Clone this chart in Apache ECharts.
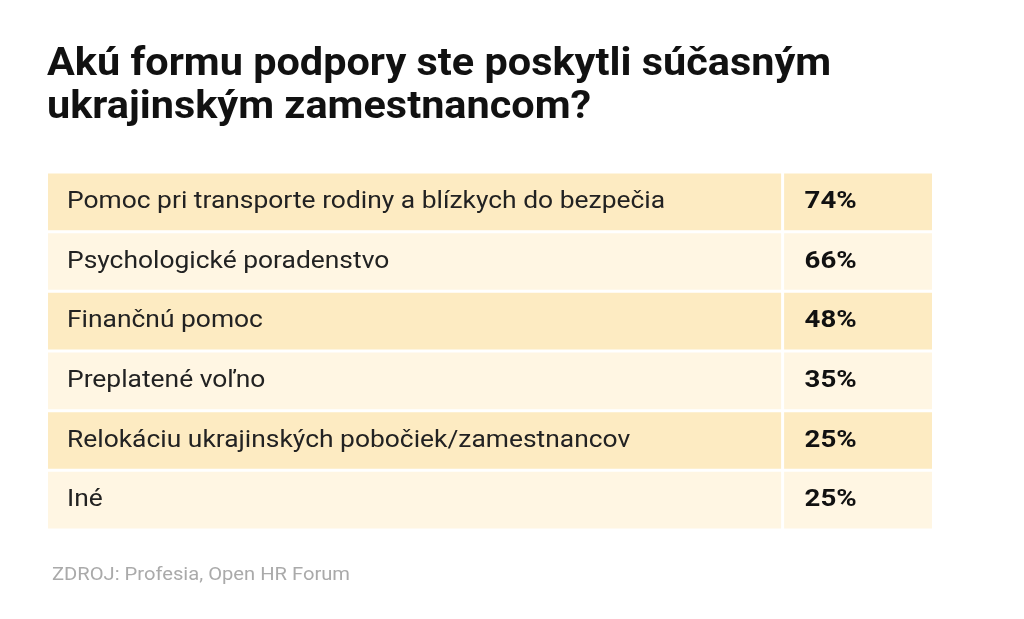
<!DOCTYPE html>
<html><head><meta charset="utf-8">
<script src="https://cdn.jsdelivr.net/npm/echarts@6/dist/echarts.min.js"></script>
<style>html,body{margin:0;background:#fff}#c{width:1024px;height:619px}</style>
</head><body><div id="c"></div>
<script>
const categories = ["Pomoc pri transporte rodiny a blízkych do bezpečia","Psychologické poradenstvo","Finančnú pomoc","Preplatené voľno","Relokáciu ukrajinských pobočiek/zamestnancov","Iné"];
const values = [74,66,48,35,25,25];
const chart = echarts.init(document.getElementById('c'));
const DIV = 0.831;
chart.setOption({
  backgroundColor:'#fff',
  animation:false,
  graphic:[
    {type:'text',left:47,top:44,scaleX:1.09,style:{text:'Akú formu podpory ste poskytli súčasným\nukrajinským zamestnancom?',
      font:'bold 38px Roboto',lineHeight:43,fill:'#111'}},
    {type:'text',left:52,top:566,scaleX:1.12,style:{text:'ZDROJ: Profesia, Open HR Forum',font:'18px Roboto',fill:'#aaa'}}
  ],
  grid:{left:48,right:92,top:172,bottom:89},
  xAxis:{type:'value',min:0,max:1,show:false},
  yAxis:{type:'category',data:categories,inverse:true,show:false},
  series:[{type:'custom',data:values.map((v,i)=>[i,v]),
    renderItem:function(params,api){
      const i=api.value(0), v=api.value(1);
      const c=api.coord([0,i]); const band=api.size([0,1])[1];
      const x0=api.coord([0,0])[0], x1=api.coord([1,0])[0], xd=api.coord([DIV,0])[0];
      const y=c[1]-band/2+1.5, h=band-3;
      const fill = i%2===0?'#fdebc2':'#fff6e3';
      return {type:'group',children:[
        {type:'rect',shape:{x:x0,y:y,width:xd-x0-1.5,height:h},style:{fill:fill}},
        {type:'rect',shape:{x:xd+1.5,y:y,width:x1-xd-1.5,height:h},style:{fill:fill}},
        {type:'text',x:x0+19,y:c[1],scaleX:1.1,style:{text:categories[i],fontFamily:'Roboto',fontSize:24,fill:'#222',verticalAlign:'middle'}},
        {type:'text',x:xd+22,y:c[1],scaleX:1.15,style:{text:v+'%',fontFamily:'Roboto',fontWeight:'bold',fontSize:24,fill:'#111',verticalAlign:'middle'}}
      ]};
    }}]
});
</script></body></html>
